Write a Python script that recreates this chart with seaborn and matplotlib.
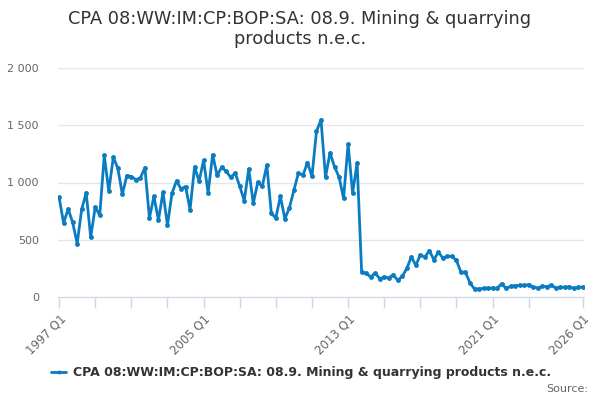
import numpy as np
import pandas as pd
import seaborn as sns
import matplotlib.pyplot as plt
from matplotlib.ticker import FuncFormatter, FixedLocator

start_year = 1997
values = [
    870, 646, 769, 652, 466, 766, 910, 521, 786, 713,
    1236, 925, 1220, 1125, 897, 1060, 1052, 1025, 1040, 1130,
    690, 879, 670, 915, 626, 906, 1015, 943, 965, 763,
    1136, 1012, 1194, 909, 1243, 1063, 1133, 1098, 1045, 1083,
    967, 842, 1118, 818, 1002, 967, 1153, 731, 690, 879,
    684, 778, 932, 1083, 1063, 1174, 1054, 1447, 1548, 1048,
    1261, 1136, 1048, 862, 1335, 907, 1172, 215, 209, 174,
    209, 160, 174, 168, 194, 145, 180, 249, 351, 276,
    368, 348, 406, 325, 392, 339, 357, 354, 319, 215,
    215, 122, 70, 70, 75, 78, 78, 75, 116, 75,
    93, 99, 102, 102, 107, 87, 78, 93, 90, 104,
    78, 87, 84, 90, 75, 84, 87,
]
label_years = [1997, 2005, 2013, 2021, 2026]
tick_years = [1997, 1999, 2001, 2003, 2005, 2007, 2009, 2011, 2013,
              2015, 2017, 2019, 2021, 2023, 2026]
series_name = "CPA 08:WW:IM:CP:BOP:SA: 08.9. Mining & quarrying products n.e.c."

df = pd.DataFrame({
    "t": start_year + np.arange(len(values)) / 4.0,
    "value": values,
})

sns.set_style("white")
plt.rcParams["font.family"] = ["DejaVu Sans"]

color = "#0a7dc2"
fig = plt.figure(figsize=(6, 4), dpi=100)
ax = fig.add_axes([0.097, 0.2575, 0.876, 0.5725])
sns.lineplot(data=df, x="t", y="value", ax=ax, color=color, linewidth=2,
             marker="o", markersize=3.5, markeredgewidth=0, label=series_name)

ax.set_ylim(0, 2000)
ax.set_xlim(df["t"].min() - 0.05, df["t"].max() + 0.05)
ax.set_yticks([0, 500, 1000, 1500, 2000])
ax.yaxis.set_major_formatter(FuncFormatter(lambda v, p: f"{int(v):,}".replace(",", " ")))
ax.grid(axis="y", color="#e6e6e6", linewidth=1)
ax.set_axisbelow(True)
for s in ["left", "top", "right"]:
    ax.spines[s].set_visible(False)
ax.spines["bottom"].set_color("#ccd6eb")
ax.xaxis.set_major_locator(FixedLocator(tick_years))
ax.set_xticklabels([f"{y} Q1" if y in label_years else "" for y in tick_years],
                   rotation=45, ha="right", rotation_mode="anchor")
ax.tick_params(axis="x", bottom=True, direction="out", length=8, width=1,
               color="#ccd6eb", labelcolor="#666666", labelsize=8.5, pad=3)
ax.tick_params(axis="y", length=0, labelcolor="#666666", labelsize=8, pad=14)
ax.set_xlabel("")
ax.set_ylabel("")

fig.suptitle("CPA 08:WW:IM:CP:BOP:SA: 08.9. Mining & quarrying\nproducts n.e.c.",
             x=0.5, y=0.975, fontsize=12.8, color="#333333", linespacing=1.15)

ax.legend(loc="center", bbox_to_anchor=(0.462, -0.33), frameon=False,
          prop={"weight": "bold", "size": 9}, labelcolor="#333333",
          handlelength=1.2, handletextpad=0.5, markerscale=0.8)
fig.text(0.98, 0.015, "Source:", ha="right", va="bottom", fontsize=8, color="#666666")

fig.savefig("out.png", dpi=100)
